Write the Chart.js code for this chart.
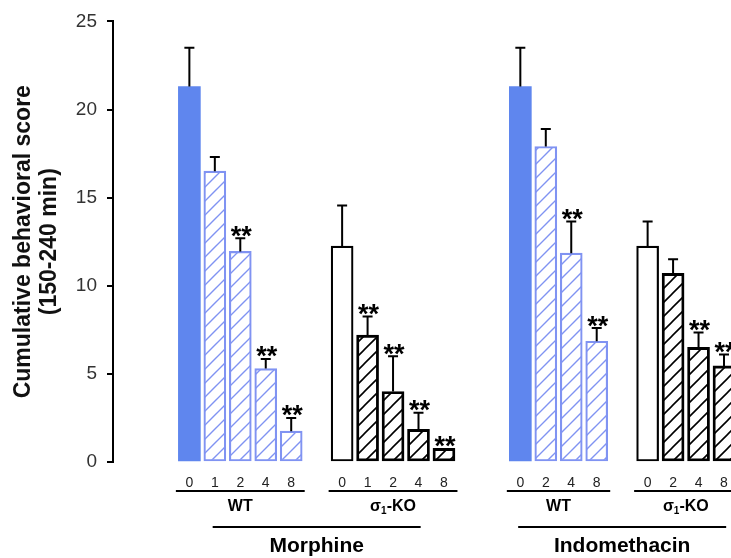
<!DOCTYPE html>
<html>
<head>
<meta charset="utf-8">
<script src="https://cdn.jsdelivr.net/npm/chart.js@4"></script>
<style>
  html, body { margin: 0; padding: 0; background: #fff; overflow: hidden; }
  #wrap { width: 731px; height: 558px; }
</style>
</head>
<body>
<div id="wrap"><canvas id="chart" width="731" height="558"></canvas></div>
<script>
// ---- values ----
const morphineDoses = ['0', '1', '2', '4', '8'];
const indoDoses = ['0', '2', '4', '8'];

const morphineWT = [21.3, 16.5, 11.95, 5.3, 1.75];
const morphineWTErr = [2.2, 0.8, 0.75, 0.55, 0.75];
const morphineWTSig = [false, false, true, true, true];

const morphineKO = [12.25, 7.2, 4.0, 1.85, 0.77];
const morphineKOErr = [2.3, 1.05, 2.0, 0.95, 0];
const morphineKOSig = [false, true, true, true, true];

const indoWT = [21.3, 17.9, 11.85, 6.85];
const indoWTErr = [2.2, 1.0, 1.8, 0.75];
const indoWTSig = [false, false, true, true];

const indoKO = [12.25, 10.7, 6.5, 5.45];
const indoKOErr = [1.4, 0.8, 0.85, 0.65];
const indoKOSig = [false, false, true, true];

const yTicks = [0, 5, 10, 15, 20, 25];
const yTitle = ['Cumulative behavioral score', '(150-240 min)'];
const drugNames = ['Morphine', 'Indomethacin'];

// ---- layout: empty slots before each bar group ----
const groupGaps = [3, 1, 2, 1];
const groups = [
    { doses: morphineDoses, values: morphineWT, errors: morphineWTErr, sig: morphineWTSig, geno: 'WT', drug: 0 },
    { doses: morphineDoses, values: morphineKO, errors: morphineKOErr, sig: morphineKOSig, geno: 'KO', drug: 0 },
    { doses: indoDoses, values: indoWT, errors: indoWTErr, sig: indoWTSig, geno: 'WT', drug: 1 },
    { doses: indoDoses, values: indoKO, errors: indoKOErr, sig: indoKOSig, geno: 'KO', drug: 1 }
];

const FONT = '"Liberation Sans", Arial, sans-serif';
const BLUE = '#5f86ee';
const BLUE_LINE = '#8093f2';

const labels = [], values = [], errs = [], sigs = [], kinds = [], spans = [];
groups.forEach((g, gi) => {
    for (let k = 0; k < groupGaps[gi]; k++) {
        labels.push(''); values.push(null); errs.push(0); sigs.push(false); kinds.push(null);
    }
    const first = labels.length;
    g.doses.forEach((d, i) => {
        labels.push(d);
        values.push(g.values[i]);
        errs.push(g.errors[i]);
        sigs.push(g.sig[i]);
        kinds.push(g.geno + (i === 0 ? '0' : ''));
    });
    spans.push({ first, last: labels.length - 1, geno: g.geno, drug: g.drug });
});

function hatch(color, width) {
    const s = 14;
    const c = document.createElement('canvas');
    c.width = s; c.height = s;
    const g = c.getContext('2d');
    g.strokeStyle = color;
    g.lineWidth = width;
    g.beginPath();
    g.moveTo(0, s); g.lineTo(s, 0);
    g.moveTo(-2, 2); g.lineTo(2, -2);
    g.moveTo(s - 2, s + 2); g.lineTo(s + 2, s - 2);
    g.stroke();
    return g.createPattern(c, 'repeat');
}

const canvas = document.getElementById('chart');
const ctx = canvas.getContext('2d');
const blueHatch = hatch(BLUE_LINE, 1.4);
const blackHatch = hatch('#000', 1.6);

const fills = { WT0: BLUE, WT: blueHatch, KO0: '#fff', KO: blackHatch };
const borders = { WT0: BLUE, WT: BLUE_LINE, KO0: '#000', KO: '#000' };
const borderWidths = { WT0: 0, WT: 1.5, KO0: 2.2, KO: 2.2 };

const annotate = {
    id: 'annotate',
    afterDatasetsDraw(chart) {
        const { ctx, scales: { y } } = chart;
        const meta = chart.getDatasetMeta(0);
        ctx.save();
        ctx.strokeStyle = '#000';
        ctx.fillStyle = '#000';
        ctx.lineWidth = 2;
        values.forEach((v, i) => {
            if (v == null) return;
            const bar = meta.data[i];
            const top = y.getPixelForValue(v + errs[i]);
            if (errs[i] > 0) {
                ctx.beginPath();
                ctx.moveTo(bar.x, bar.y);
                ctx.lineTo(bar.x, top);
                ctx.moveTo(bar.x - 5, top);
                ctx.lineTo(bar.x + 5, top);
                ctx.stroke();
            }
            if (sigs[i]) {
                ctx.font = 'bold 27px ' + FONT;
                ctx.textAlign = 'center';
                ctx.textBaseline = 'alphabetic';
                ctx.fillText('**', bar.x + 1, top - 9 + 15.5);
            }
        });
        ctx.restore();
    },
    afterDraw(chart) {
        const { ctx, scales: { x } } = chart;
        ctx.save();
        ctx.strokeStyle = '#000';
        ctx.fillStyle = '#000';
        ctx.lineWidth = 2;
        ctx.textBaseline = 'middle';
        const ext = spans.map(s => ({
            x0: x.getPixelForTick(s.first) - 13.5,
            x1: x.getPixelForTick(s.last) + 13.5,
            geno: s.geno, drug: s.drug
        }));
        ext.forEach(e => {
            ctx.beginPath();
            ctx.moveTo(e.x0, 491);
            ctx.lineTo(e.x1, 491);
            ctx.stroke();
            const cx = (e.x0 + e.x1) / 2;
            if (e.geno === 'WT') {
                ctx.font = 'bold 16px ' + FONT;
                ctx.textAlign = 'center';
                ctx.fillText('WT', cx, 507);
            } else {
                const main = 'bold 16px ' + FONT, sub = 'bold 10px ' + FONT;
                ctx.font = main;
                const w1 = ctx.measureText('σ').width, w3 = ctx.measureText('-KO').width;
                ctx.font = sub;
                const w2 = ctx.measureText('1').width;
                let sx = cx - (w1 + w2 + w3) / 2;
                ctx.textAlign = 'left';
                ctx.font = main; ctx.fillText('σ', sx, 507); sx += w1;
                ctx.font = sub; ctx.fillText('1', sx, 511); sx += w2;
                ctx.font = main; ctx.fillText('-KO', sx, 507);
            }
        });
        drugNames.forEach((name, d) => {
            const mine = ext.filter(e => e.drug === d);
            const cx = (mine[0].x0 + mine[mine.length - 1].x1) / 2;
            ctx.beginPath();
            ctx.moveTo(cx - 104, 527);
            ctx.lineTo(cx + 104, 527);
            ctx.stroke();
            ctx.font = 'bold 21px ' + FONT;
            ctx.textAlign = 'center';
            ctx.fillText(name, cx, 546);
        });
        ctx.restore();
    }
};

new Chart(ctx, {
    type: 'bar',
    data: {
        labels,
        datasets: [{
            data: values,
            backgroundColor: c => fills[kinds[c.dataIndex]] || 'transparent',
            borderColor: c => borders[kinds[c.dataIndex]] || 'transparent',
            borderWidth: c => borderWidths[kinds[c.dataIndex]] || 0,
            borderSkipped: false,
            barThickness: 22,
            clip: false
        }]
    },
    options: {
        responsive: false,
        animation: false,
        layout: { padding: { left: 1, right: 7, top: 20, bottom: 0 } },
        plugins: { legend: { display: false }, tooltip: { enabled: false } },
        scales: {
            x: {
                type: 'category',
                offset: false,
                grid: { display: false, drawTicks: false },
                border: { display: false },
                ticks: {
                    autoSkip: false, maxRotation: 0, padding: 13,
                    color: '#222', font: { family: FONT, size: 14 }
                },
                afterFit: s => {
                    s.height = 96;
                    s.paddingLeft = 0;
                    s.paddingRight = 0;
                }
            },
            y: {
                min: 0,
                max: 25,
                afterBuildTicks: s => { s.ticks = yTicks.map(v => ({ value: v })); },
                ticks: { padding: 10, color: '#333', font: { family: FONT, size: 19 } },
                grid: { drawOnChartArea: false, drawTicks: true, tickLength: 6, color: '#000', lineWidth: 2 },
                border: { color: '#000', width: 2 },
                title: {
                    display: true,
                    text: yTitle,
                    color: '#111',
                    font: { family: FONT, size: 23, weight: 'bold', lineHeight: 1.15 },
                    padding: { top: 9, bottom: 0 }
                },
                afterFit: s => { s.width = 112; }
            }
        }
    },
    plugins: [annotate]
});
</script>
</body>
</html>
